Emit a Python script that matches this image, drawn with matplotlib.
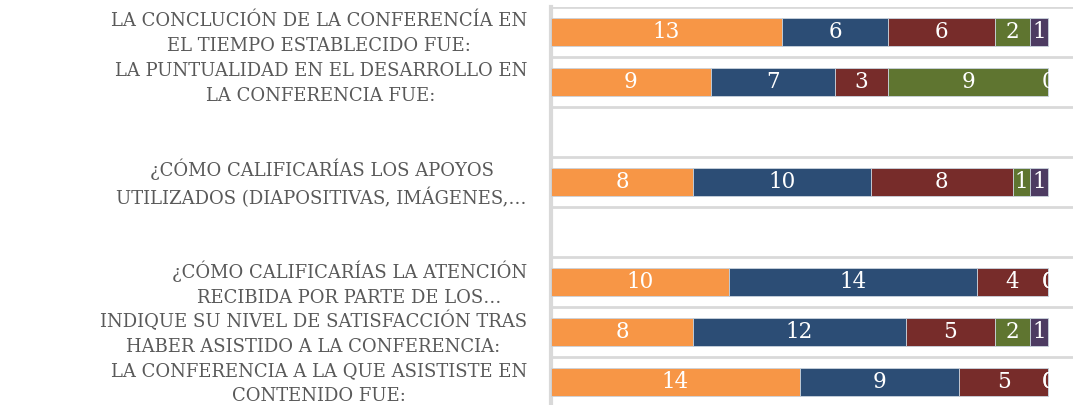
import numpy as np
import matplotlib.pyplot as plt
import matplotlib.transforms as mtransforms
from matplotlib.patches import Rectangle

# preguntas (de arriba hacia abajo), dos filas sin datos
preguntas = [
    'LA CONCLUCIÓN DE LA CONFERENCÍA EN\nEL TIEMPO ESTABLECIDO FUE:',
    'LA PUNTUALIDAD EN EL DESARROLLO EN\nLA CONFERENCIA FUE:',
    '',
    '¿CÓMO CALIFICARÍAS LOS APOYOS\nUTILIZADOS (DIAPOSITIVAS, IMÁGENES,…',
    '',
    '¿CÓMO CALIFICARÍAS LA ATENCIÓN\nRECIBIDA POR PARTE DE LOS…',
    'INDIQUE SU NIVEL DE SATISFACCIÓN TRAS\nHABER ASISTIDO A LA CONFERENCIA:',
    'LA CONFERENCIA A LA QUE ASISTISTE EN\nCONTENIDO FUE:',
]

nan = np.nan
serie1 = [13, 9, nan, 8, nan, 10, 8, 14]
serie2 = [6, 7, nan, 10, nan, 14, 12, 9]
serie3 = [6, 3, nan, 8, nan, 4, 5, 5]
serie4 = [2, 9, nan, 1, nan, 0, 2, 0]
serie5 = [1, 0, nan, 1, nan, 0, 1, 0]

series = [serie1, serie2, serie3, serie4, serie5]
colores = ['#F79646', '#2C4D75', '#772C2A', '#5F7530', '#4D3B62']

fig = plt.figure(figsize=(10.73, 4.05), dpi=100)
ax = fig.add_axes([551 / 1073, 1 - 407 / 405, 1 - 551 / 1073, 400 / 405])

y = np.arange(len(preguntas))
total = 28
izq = np.zeros(len(preguntas))
for vals, col in zip(series, colores):
    vals = np.array(vals, dtype=float)
    ax.barh(y, vals, left=izq, height=0.56, color=col,
            edgecolor='#C9D3DD', linewidth=0.6, zorder=3)
    for i, v in enumerate(vals):
        if np.isnan(v):
            continue
        t = ax.text(izq[i] + v / 2, y[i], f'{int(v)}', ha='center', va='center',
                    color='white', fontsize=15.5, family='DejaVu Serif', zorder=4)
        # el "0" final queda recortado al final de la barra
        clip = Rectangle((0, y[i] - 0.5), total, 1, transform=ax.transData)
        t.set_clip_path(clip)
    izq = izq + np.nan_to_num(vals)

ax.set_xlim(0, 522 / 17.75)
ax.set_ylim(len(preguntas) - 0.5, -0.5)

# etiquetas de las preguntas a la izquierda
trans = mtransforms.blended_transform_factory(ax.transAxes, ax.transData)
trans = trans + mtransforms.ScaledTranslation(-24 / 100, -1.5 / 100, fig.dpi_scale_trans)
for i, p in enumerate(preguntas):
    if p:
        ax.text(0, y[i], p, transform=trans, ha='right', va='center',
                multialignment='center', family='DejaVu Serif', fontsize=13,
                color='#595959', linespacing=1.5, clip_on=False)

ax.set_xticks([])

# lineas de separacion de categorias
ax.set_yticks(np.arange(-0.5, len(preguntas)))
ax.set_yticklabels([])
ax.tick_params(axis='y', length=0)
ax.grid(True, axis='y', color='#D9D9D9', linewidth=2, zorder=0)

for s in ['top', 'right', 'bottom']:
    ax.spines[s].set_visible(False)
ax.spines['left'].set_color('#D9D9D9')
ax.spines['left'].set_linewidth(3)

plt.savefig('out.png', dpi=100)
